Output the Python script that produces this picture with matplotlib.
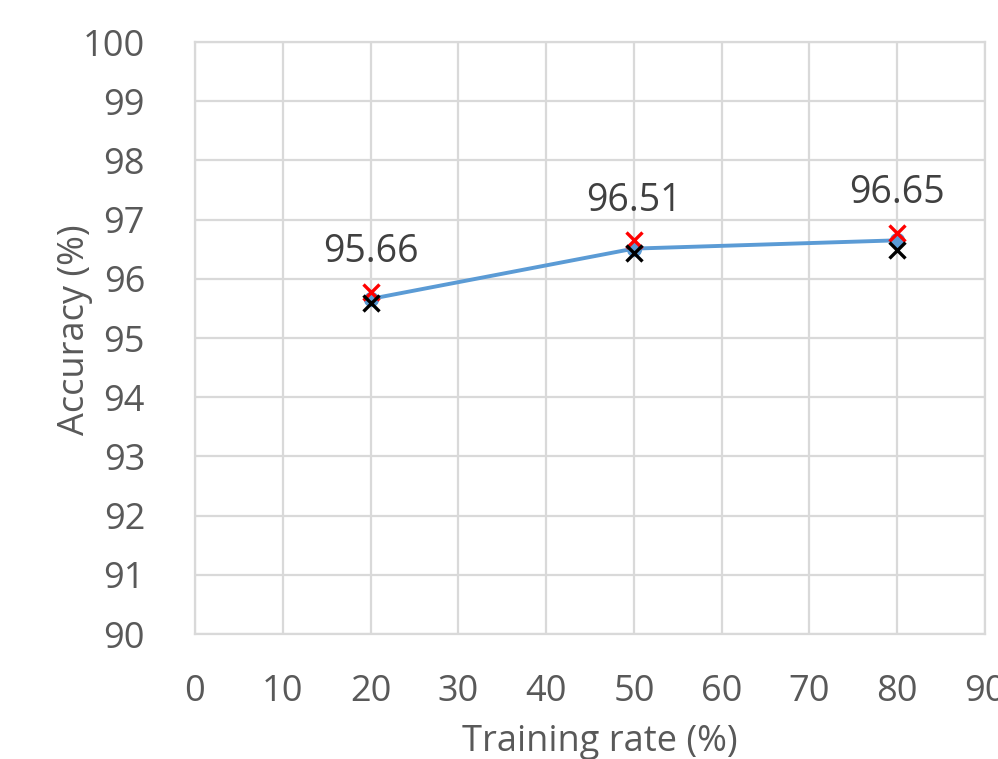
import matplotlib
matplotlib.use("Agg")
import matplotlib.pyplot as plt

# Accuracy versus training rate
training_rate = [20, 50, 80]
accuracy = [95.66, 96.51, 96.65]
upper_marks = [95.78, 96.65, 96.77]
lower_marks = [95.59, 96.44, 96.49]
x_ticks = [0, 10, 20, 30, 40, 50, 60, 70, 80, 90]
y_ticks = [90, 91, 92, 93, 94, 95, 96, 97, 98, 99, 100]

plt.rcParams["font.family"] = ["Open Sans", "DejaVu Sans"]
text_color = "#595959"
grid_color = "#d9d9d9"

fig = plt.figure(figsize=(9.98, 7.59), dpi=100)
ax = fig.add_axes([195 / 998, 1 - 634 / 759, (985 - 195) / 998, (634 - 42) / 759])

ax.plot(training_rate, accuracy, color="#5b9bd5", lw=2.8, marker="o",
        markersize=10, zorder=3, clip_on=False)
ax.plot(training_rate, upper_marks, linestyle="none", marker="x", color="#ff0000",
        markersize=12, markeredgewidth=2.4, zorder=4, clip_on=False)
ax.plot(training_rate, lower_marks, linestyle="none", marker="x", color="black",
        markersize=12, markeredgewidth=2.4, zorder=5, clip_on=False)

for x, y in zip(training_rate, accuracy):
    ax.annotate(f"{y:.2f}", (x, y), xytext=(0, 34), textcoords="offset points",
                ha="center", va="center", fontsize=27, color="#404040")

ax.set_xlim(0, 90)
ax.set_ylim(90, 100)
ax.set_xticks(x_ticks)
ax.set_yticks(y_ticks)
ax.grid(True, color=grid_color, lw=1.6)
ax.set_axisbelow(True)
for s in ax.spines.values():
    s.set_color(grid_color)
    s.set_linewidth(1.6)
ax.tick_params(length=0, labelsize=26, colors=text_color)
ax.tick_params(axis="y", pad=36)
ax.tick_params(axis="x", pad=29)

ax.set_xlabel("Training rate (%)", fontsize=26, color=text_color, va="center")
ax.xaxis.set_label_coords(0.513, -0.182)
ax.set_ylabel("Accuracy (%)", fontsize=26, color=text_color, va="center")
ax.yaxis.set_label_coords(-0.152, 0.514)

fig.savefig("out.png", dpi=100)
